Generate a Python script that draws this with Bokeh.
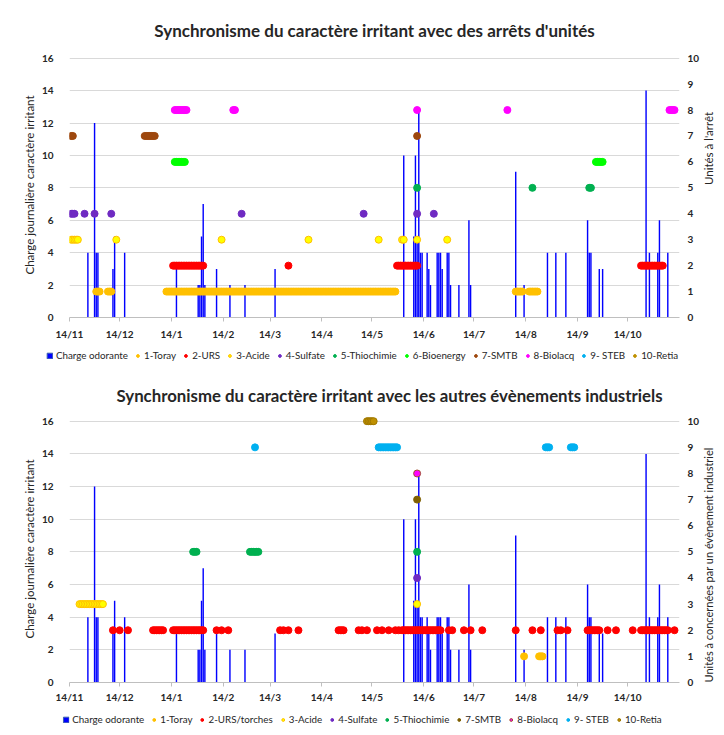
import math
import datetime as dt
from bokeh.plotting import figure
from bokeh.models import Range1d, LinearAxis, FixedTicker, Legend, LegendItem
from bokeh.layouts import column
from bokeh.embed import file_html
from bokeh.resources import INLINE

# ---------------- data (x = days after 14/11) ----------------
START = dt.date(2014, 11, 14)
tick_dates = [dt.date(2014, 11, 14), dt.date(2014, 12, 14), dt.date(2015, 1, 14),
              dt.date(2015, 2, 14), dt.date(2015, 3, 14), dt.date(2015, 4, 14),
              dt.date(2015, 5, 14), dt.date(2015, 6, 14), dt.date(2015, 7, 14),
              dt.date(2015, 8, 14), dt.date(2015, 9, 14), dt.date(2015, 10, 14)]
tick_labels = ["14/11", "14/12", "14/1", "14/2", "14/3", "14/4",
               "14/5", "14/6", "14/7", "14/8", "14/9", "14/10"]

# Charge odorante (daily irritant load)
bar_days = [11, 15, 16, 17, 26, 27, 33, 64, 77, 78, 79, 80, 81, 88, 96, 105, 123,
            200, 206, 207, 208, 209, 210, 211, 214, 215, 216, 220, 221, 222, 223,
            226, 227, 228, 233, 239, 240, 267, 272, 286, 291, 297, 310, 311, 312,
            317, 319, 345, 347, 352, 353, 358]
bar_values = [4, 12, 4, 4, 3, 5, 4, 3, 2, 2, 5, 7, 2, 3, 2, 2, 3,
              10, 5, 10, 5, 12.8, 4, 4, 4, 3, 2, 4, 4, 4, 3,
              4, 4, 2, 2, 6, 2, 9, 2, 4, 4, 4, 6, 4, 4,
              3, 3, 14, 4, 4, 6, 4]

# unit number (right axis level) of each unit
unit_levels = {"Toray": 1, "URS": 2, "Acide": 3, "Sulfate": 4, "Thiochimie": 5,
               "Bioenergy": 6, "SMTB": 7, "Biolacq": 8, "STEB": 9, "Retia": 10}

# top chart: unit stops (single day or [first, last] day runs)
top_toray = [[16, 18], [23, 25], [58, 195], [267, 271], [275, 280]]
top_urs = [[62, 80], 131, [196, 208], [342, 355]]
top_acide = [[1, 5], 28, 91, 143, 185, 199, 200, 208, 226]
top_sulfate = [[1, 3], 9, 15, 25, 103, 176, 208, 218]
top_thiochimie = [208, 277, [311, 312]]
top_bioenergy = [[63, 69], [315, 319]]
top_smtb = [[1, 2], [45, 51], 208]
top_biolacq = [[63, 70], [98, 99], 208, 262, [359, 362]]
top_steb = []
top_retia = []

# bottom chart: other industrial events
bot_toray = [272, [281, 283]]
bot_urs = [26, 30, 35, [50, 56], [62, 80], 88, 91, 95, 126, 128, 131, 137, [161, 164],
           173, 175, 178, 184, 187, 191, 195, 197, [199, 222], 227, 229, 236, 240, 247,
           267, 277, 282, 292, 294, 298, [310, 317], 322, 327, 337, [342, 358], 362]
bot_acide = [[6, 20], 208]
bot_sulfate = [208]
bot_thiochimie = [[74, 76], [108, 113], 208]
bot_smtb = [208]
bot_biolacq = [208]
bot_steb = [111, [185, 196], [285, 287], [300, 302]]
bot_retia = [[178, 182]]

FONT = "Lato"
TXT = "#262626"
Y_TOP = 16.35          # a little head-room so the level-10 markers are not cut
W = 724

AXIS_PROPS = LinearAxis.properties()
CAN_ORIENT = "axis_label_orientation" in AXIS_PROPS and "axis_label_align" in AXIS_PROPS


def expand(runs):
    out = []
    for r in runs:
        if isinstance(r, (list, tuple)):
            out.extend(range(r[0], r[1] + 1))
        else:
            out.append(r)
    return out


def style_label_font(ax, size, bold):
    ax.major_label_text_font = FONT
    ax.major_label_text_font_size = size
    ax.major_label_text_font_style = "bold" if bold else "normal"
    ax.major_label_text_color = TXT


def no_ticks(ax):
    ax.axis_line_color = None
    ax.major_tick_line_color = None
    ax.minor_tick_line_color = None
    ax.major_tick_out = 0
    ax.major_tick_in = 0
    ax.minor_tick_out = 0
    ax.minor_tick_in = 0


def make_chart(title, right_label, series, H, mbl, mbr, mbt, mbb, title_size,
               title_standoff, title_align, title_offset, x_standoff, rl_size, rl_align):
    p = figure(width=W, height=H, x_range=Range1d(0, 365), y_range=Range1d(0, Y_TOP),
               output_backend="svg", toolbar_location=None,
               min_border_left=mbl, min_border_right=mbr,
               min_border_top=mbt, min_border_bottom=mbb)
    p.extra_y_ranges = {"units": Range1d(0, Y_TOP / 1.6)}
    p.outline_line_color = None

    p.title.text = title
    p.title.align = title_align
    p.title.offset = title_offset
    p.title.text_font = FONT
    p.title.text_font_size = title_size
    p.title.text_font_style = "bold"
    p.title.text_color = TXT
    p.title.standoff = title_standoff

    tick_days = [(d - START).days for d in tick_dates]
    xa = p.xaxis[0]
    xa.ticker = FixedTicker(ticks=tick_days)
    xa.major_label_overrides = {d: lab for d, lab in zip(tick_days, tick_labels)}
    xa.axis_line_color = "#BFBFBF"
    xa.major_tick_line_color = "#BFBFBF"
    xa.major_tick_out = 4
    xa.major_tick_in = 0
    xa.minor_tick_line_color = None
    xa.minor_tick_out = 0
    xa.minor_tick_in = 0
    xa.major_label_standoff = x_standoff
    style_label_font(xa, "10px", True)

    ya = p.yaxis[0]
    ya.ticker = FixedTicker(ticks=list(range(0, 17, 2)))
    no_ticks(ya)
    ya.major_label_standoff = 16
    style_label_font(ya, "10px", True)
    ya.axis_label = "Charge journalière caractère irritant"
    ya.axis_label_text_font = FONT
    ya.axis_label_text_font_size = "11.5px"
    ya.axis_label_text_font_style = "normal"
    ya.axis_label_text_color = TXT
    ya.axis_label_standoff = 3

    ra = LinearAxis(y_range_name="units", ticker=FixedTicker(ticks=list(range(0, 11))))
    no_ticks(ra)
    ra.major_label_standoff = 8
    style_label_font(ra, "10px", True)
    ra.axis_label = right_label
    ra.axis_label_text_font = FONT
    ra.axis_label_text_font_size = rl_size
    ra.axis_label_text_font_style = "normal"
    ra.axis_label_text_color = TXT
    ra.axis_label_standoff = 6
    if CAN_ORIENT:
        # read from bottom to top, as in the original
        ra.axis_label_orientation = math.pi / 2
        ra.axis_label_align = rl_align
    p.add_layout(ra, "right")

    p.xgrid.visible = False
    p.ygrid.ticker = FixedTicker(ticks=list(range(0, 17, 2)))
    p.ygrid.grid_line_color = "#D9D9D9"

    p.vbar(x=bar_days, top=bar_values, width=0.85, fill_color="#0000FF", line_color=None)
    for label, key, runs, fill, line in series:
        days = expand(runs)
        p.scatter(x=days, y=[unit_levels[key]] * len(days), y_range_name="units",
                  size=7, marker="circle", fill_color=fill, line_color=line, line_width=1)
    return p


def make_legend(series, H):
    # legend strip: renderers hold the bar data but the ranges keep it off-screen
    lf = figure(width=W, height=H, x_range=Range1d(-3, -2), y_range=Range1d(-3, -2),
                output_backend="svg", toolbar_location=None,
                x_axis_type=None, y_axis_type=None, min_border=0)
    lf.outline_line_color = None
    bars = lf.vbar(x=bar_days, top=bar_values, width=0.85, fill_color="#0000FF",
                   line_color="#3A5FB0")
    items = [LegendItem(label="Charge odorante", renderers=[bars])]
    for label, key, runs, fill, line in series:
        r = lf.scatter(x=bar_days, y=bar_values, size=7, marker="circle",
                       fill_color=fill, line_color=line, line_width=1)
        items.append(LegendItem(label=label, renderers=[r]))
    leg = Legend(items=items, orientation="horizontal", location="center")
    leg.label_text_font = FONT
    leg.label_text_font_size = "9.8px"
    leg.label_text_color = TXT
    leg.glyph_width = 7
    leg.glyph_height = 7
    leg.label_standoff = 3
    leg.spacing = 6
    leg.padding = 0
    leg.margin = 0
    leg.label_height = 10
    leg.border_line_color = None
    leg.background_fill_alpha = 0
    lf.add_layout(leg)
    return lf


top_series = [
    ("1-Toray", "Toray", top_toray, "#FFC000", "#FFC000"),
    ("2-URS", "URS", top_urs, "#FF0000", "#FF0000"),
    ("3-Acide", "Acide", top_acide, "#FFFF00", "#FFC000"),
    ("4-Sulfate", "Sulfate", top_sulfate, "#6F2AC2", "#6F2AC2"),
    ("5-Thiochimie", "Thiochimie", top_thiochimie, "#00B050", "#00B050"),
    ("6-Bioenergy", "Bioenergy", top_bioenergy, "#00FF00", "#00FF00"),
    ("7-SMTB", "SMTB", top_smtb, "#9E480E", "#9E480E"),
    ("8-Biolacq", "Biolacq", top_biolacq, "#FF00FF", "#FF00FF"),
    ("9- STEB", "STEB", top_steb, "#00B0F0", "#00B0F0"),
    ("10-Retia", "Retia", top_retia, "#BF9000", "#BF9000"),
]
bot_series = [
    ("1-Toray", "Toray", bot_toray, "#FFC000", "#FFC000"),
    ("2-URS/torches", "URS", bot_urs, "#FF0000", "#FF0000"),
    ("3-Acide", "Acide", bot_acide, "#FFFF00", "#FFC000"),
    ("4-Sulfate", "Sulfate", bot_sulfate, "#6F2AC2", "#6F2AC2"),
    ("5-Thiochimie", "Thiochimie", bot_thiochimie, "#00B050", "#00B050"),
    ("7-SMTB", "SMTB", bot_smtb, "#7F6000", "#7F6000"),
    ("8-Biolacq", "Biolacq", bot_biolacq, "#FF00FF", "#A0522D"),
    ("9- STEB", "STEB", bot_steb, "#00B0F0", "#00B0F0"),
    ("10-Retia", "Retia", bot_retia, "#BF9000", "#A07800"),
]

p1 = make_chart("Synchronisme du caractère irritant avec des arrêts d'unités",
                "Unités à l'arrêt", top_series, 345, 67, 42, 52, 28, "17px",
                23, "center", 0, 6, "11.5px", "center")
l1 = make_legend(top_series, 20)
p2 = make_chart("Synchronisme du caractère irritant avec les autres évènements industriels",
                "Unités à concernées par un évènement industriel", bot_series,
                340, 69, 45, 50, 22, "16.8px", 20, "left", 47, 4, "11px", "start")
l2 = make_legend(bot_series, 28)

layout = column(p1, column(l1), p2, column(l2), spacing=0)
open("out.html", "w").write(file_html(layout, INLINE))
